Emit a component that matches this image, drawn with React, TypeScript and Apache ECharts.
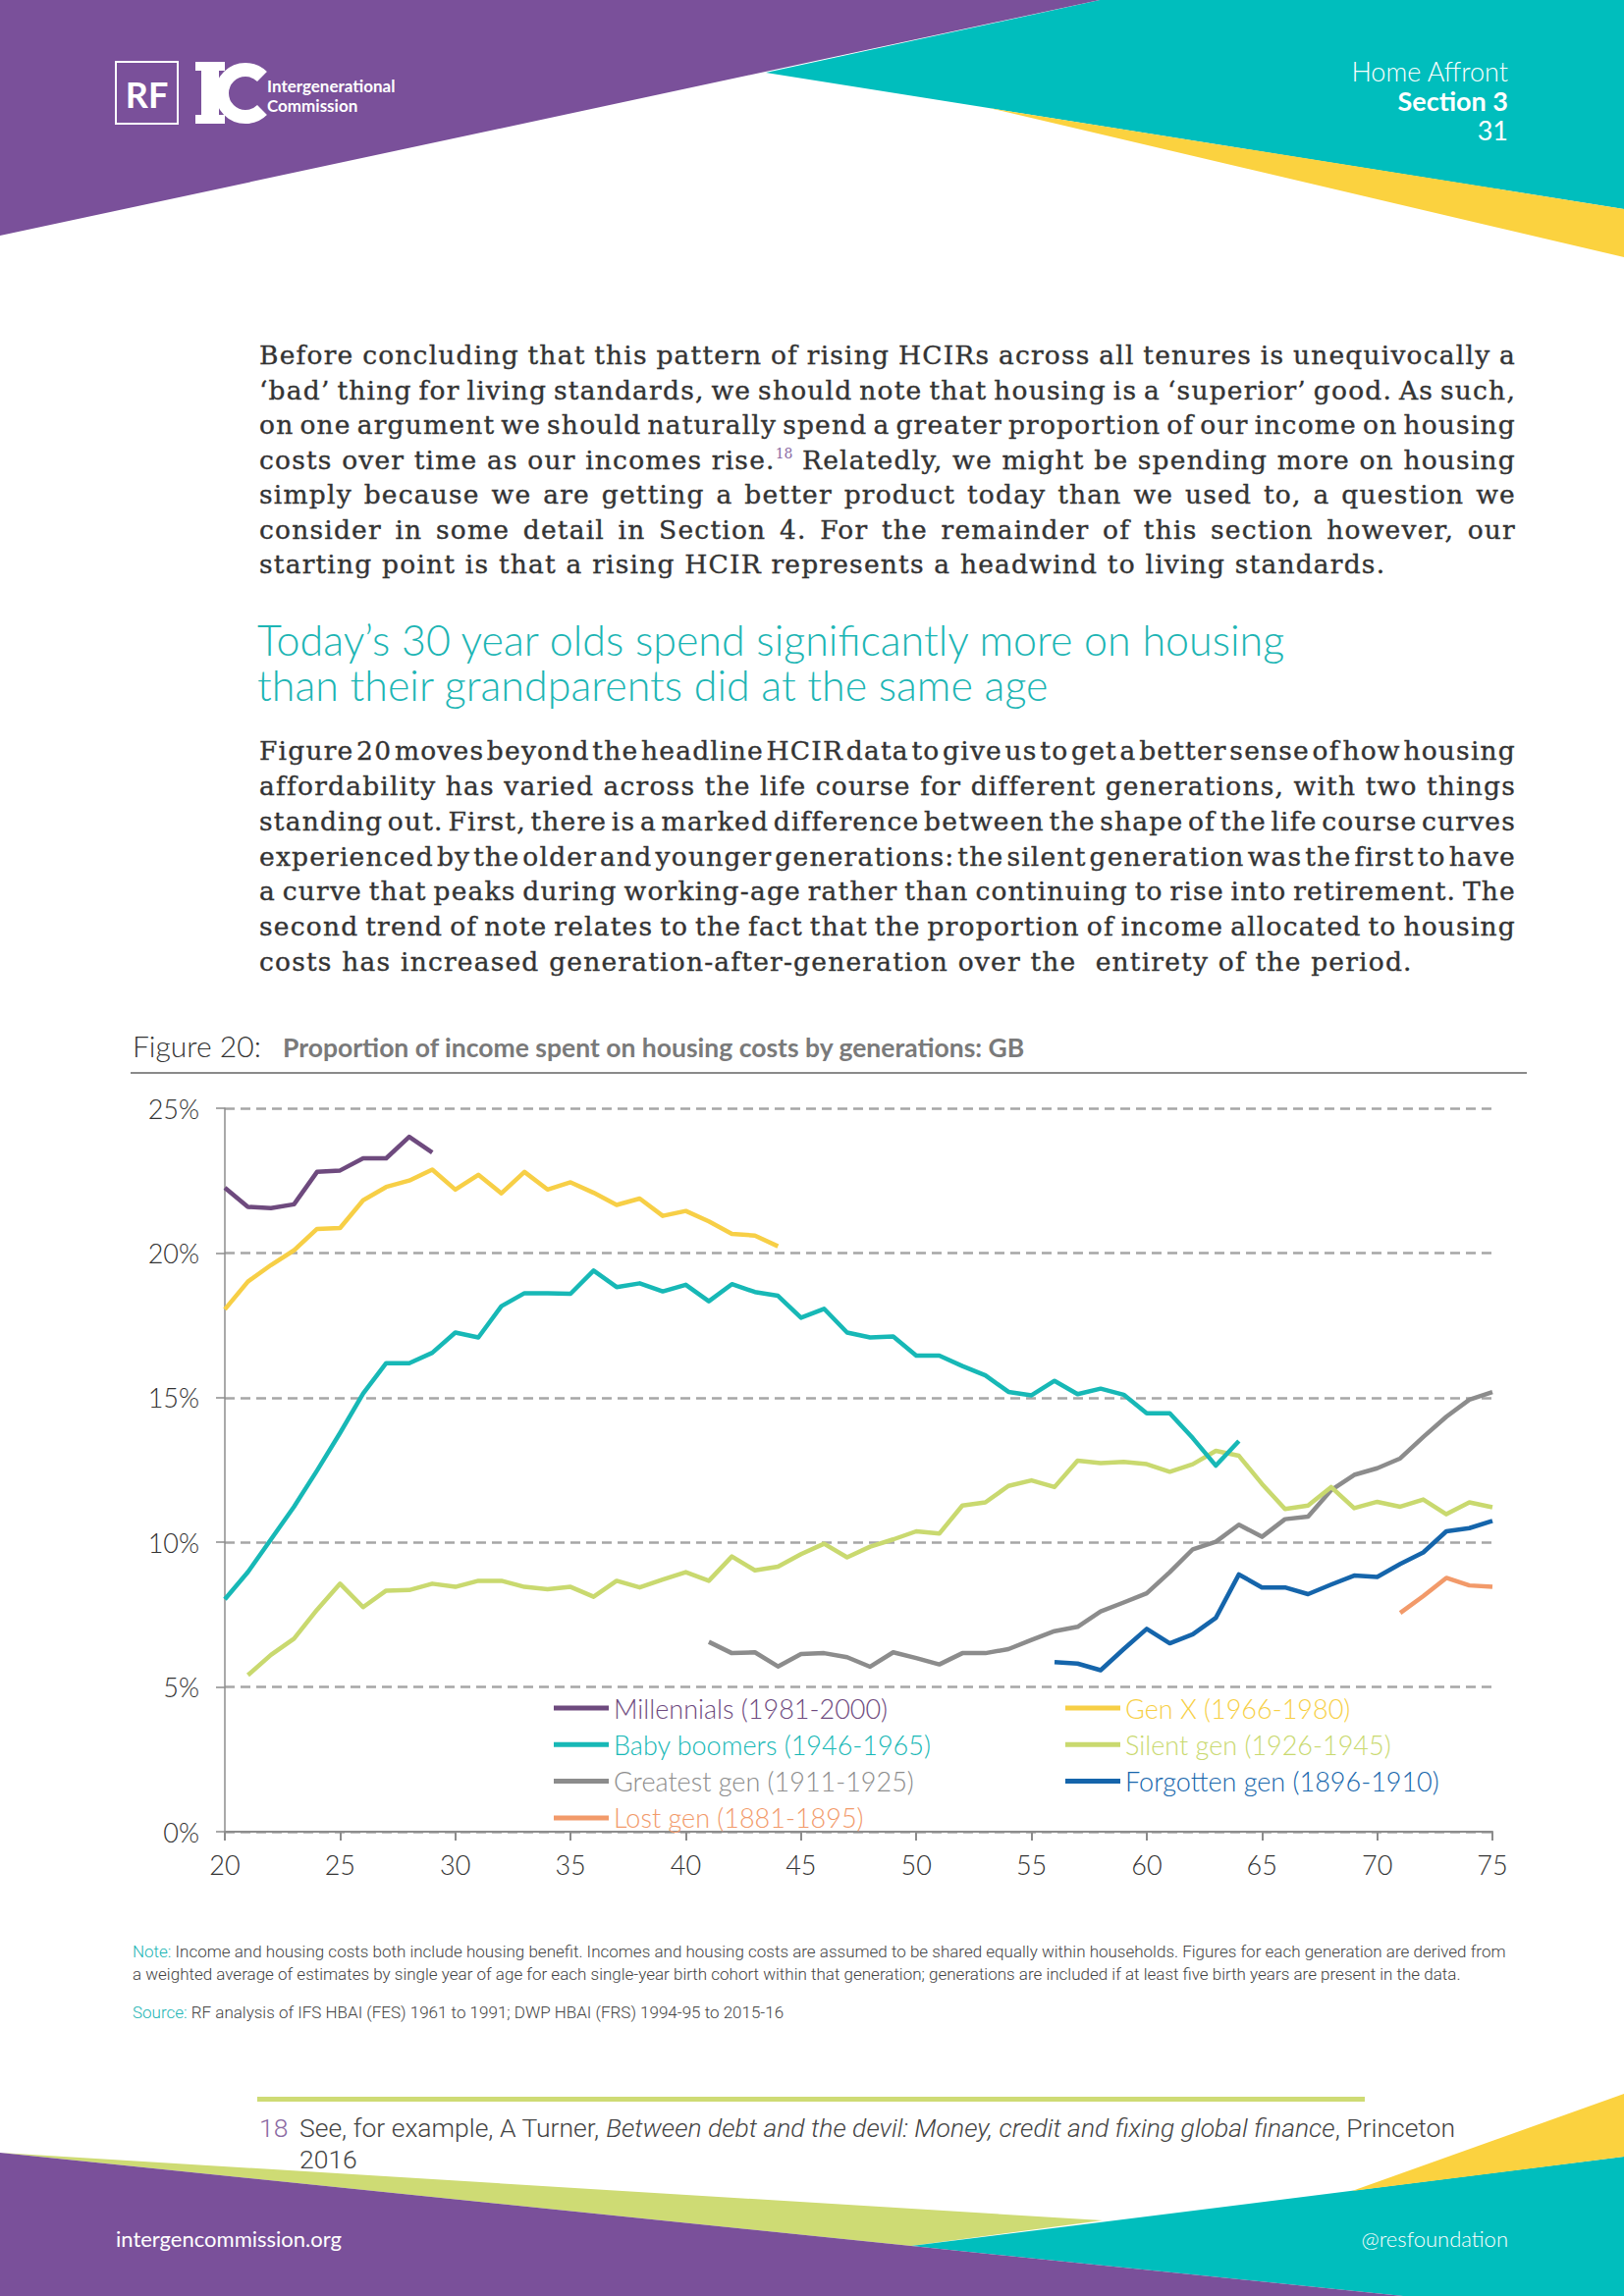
import React, { useEffect, useRef } from "react";
import * as echarts from "echarts";

// ---------- DATA ----------
const X_MIN = 20;
const X_MAX = 75;
const X_STEP = 5;
const Y_MIN = 0;
const Y_MAX = 25;
const Y_STEP = 5;

const millennialsName = "Millennials (1981-2000)";
const millennialsStart = 20;
const millennials = [22.25, 21.59, 21.55, 21.68, 22.8, 22.85, 23.27, 23.27, 24.01, 23.47];

const genXName = "Gen X (1966-1980)";
const genXStart = 20;
const genX = [18.05, 19.01, 19.58, 20.09, 20.83, 20.86, 21.82, 22.28, 22.5, 22.88, 22.19, 22.7, 22.06, 22.8, 22.19, 22.44, 22.08, 21.66, 21.88, 21.28, 21.45, 21.09, 20.66, 20.6, 20.23];

const boomersName = "Baby boomers (1946-1965)";
const boomersStart = 20;
const boomers = [8.03, 8.97, 10.1, 11.23, 12.48, 13.78, 15.14, 16.19, 16.19, 16.55, 17.25, 17.08, 18.16, 18.61, 18.61, 18.59, 19.39, 18.82, 18.95, 18.67, 18.9, 18.33, 18.92, 18.65, 18.52, 17.76, 18.07, 17.25, 17.08, 17.11, 16.45, 16.45, 16.09, 15.77, 15.2, 15.08, 15.58, 15.12, 15.31, 15.1, 14.46, 14.46, 13.6, 12.65, 13.5];

const silentName = "Silent gen (1926-1945)";
const silentStart = 21;
const silent = [5.41, 6.11, 6.67, 7.67, 8.57, 7.76, 8.33, 8.35, 8.57, 8.46, 8.67, 8.67, 8.46, 8.38, 8.46, 8.12, 8.67, 8.44, 8.71, 8.97, 8.67, 9.51, 9.03, 9.16, 9.59, 9.95, 9.48, 9.85, 10.1, 10.38, 10.3, 11.27, 11.38, 11.95, 12.14, 11.91, 12.82, 12.74, 12.78, 12.7, 12.44, 12.7, 13.16, 12.99, 12.02, 11.15, 11.27, 11.91, 11.18, 11.4, 11.23, 11.48, 10.97, 11.38, 11.21];

const greatestName = "Greatest gen (1911-1925)";
const greatestStart = 41;
const greatest = [6.56, 6.17, 6.2, 5.71, 6.14, 6.17, 6.03, 5.7, 6.2, 6.0, 5.78, 6.17, 6.17, 6.31, 6.63, 6.93, 7.08, 7.61, 7.92, 8.24, 8.97, 9.76, 10.02, 10.61, 10.19, 10.8, 10.89, 11.8, 12.33, 12.56, 12.9, 13.64, 14.34, 14.93, 15.19];

const forgottenName = "Forgotten gen (1896-1910)";
const forgottenStart = 56;
const forgotten = [5.86, 5.81, 5.58, 6.31, 7.01, 6.51, 6.82, 7.39, 8.89, 8.44, 8.44, 8.21, 8.54, 8.85, 8.8, 9.25, 9.65, 10.38, 10.49, 10.74];

const lostName = "Lost gen (1881-1895)";
const lostStart = 71;
const lost = [7.56, 8.14, 8.77, 8.51, 8.46];

const COLORS = {
  millennials: "#6E4A7E",
  genX: "#F7CF46",
  boomers: "#17B8B6",
  silent: "#C9D96F",
  greatest: "#8C8C8C",
  forgotten: "#1565AB",
  lost: "#F29A6A",
};

const P1 = [
  "Before concluding that this pattern of rising HCIRs across all tenures is unequivocally a",
  "\u2018bad\u2019 thing for living standards, we should note that housing is a \u2018superior\u2019 good. As such,",
  "on one argument we should naturally spend a greater proportion of our income on housing",
  "costs over time as our incomes rise.|18| Relatedly, we might be spending more on housing",
  "simply because we are getting a better product today than we used to, a question we",
  "consider in some detail in Section 4. For the remainder of this section however, our",
  "starting point is that a rising HCIR represents a headwind to living standards.",
];

const HEADING = [
  "Today\u2019s 30 year olds spend significantly more on housing",
  "than their grandparents did at the same age",
];

const P2 = [
  "Figure 20 moves beyond the headline HCIR data to give us to get a better sense of how housing",
  "affordability has varied across the life course for different generations, with two things",
  "standing out. First, there is a marked difference between the shape of the life course curves",
  "experienced by the older and younger generations: the silent generation was the first to have",
  "a curve that peaks during working-age rather than continuing to rise into retirement. The",
  "second trend of note relates to the fact that the proportion of income allocated to housing",
  "costs has increased generation-after-generation over the  entirety of the period.",
];

const NOTE1 = "Income and housing costs both include housing benefit. Incomes and housing costs are assumed to be shared equally within households. Figures for each generation are derived from";
const NOTE2 = "a weighted average of estimates by single year of age for each single-year birth cohort within that generation; generations are included if at least five birth years are present in the data.";
const SOURCE = "RF analysis of IFS HBAI (FES) 1961 to 1991; DWP HBAI (FRS) 1994-95 to 2015-16";

const toPairs = (start: number, vals: number[]) => vals.map((v, i) => [start + i, v]);

const SANS = "Lato, 'Open Sans', sans-serif";
const NOTE_FONT = "Roboto, sans-serif";

function buildOption() {
  const mk = (name: string, start: number, vals: number[], color: string, z: number) => ({
    name,
    type: "line",
    data: toPairs(start, vals),
    showSymbol: false,
    symbol: "none",
    z,
    lineStyle: { color, width: 4.5, join: "round" },
    itemStyle: { color },
  });

  const legendCommon = {
    orient: "vertical",
    icon: "rect",
    itemWidth: 56,
    itemHeight: 5,
    itemGap: 7.3,
    selectedMode: false,
    textStyle: { fontSize: 27, fontFamily: SANS, fontWeight: 300, lineHeight: 30 },
    top: 1720,
  };

  const teal = "#1CB5B4";
  const purple = "#7A509A";
  const tealBg = "#00BEBD";
  const yellow = "#FBD23F";
  const green = "#CEDB74";

  const graphic: any[] = [
    // header shapes
    { type: "polygon", shape: { points: [[780, 74], [1120, 0], [1654, 0], [1654, 213]] }, style: { fill: tealBg } },
    { type: "polygon", shape: { points: [[1007, 110], [1654, 213], [1654, 262]] }, style: { fill: yellow } },
    { type: "polygon", shape: { points: [[0, 0], [1120, 0], [0, 240]] }, style: { fill: purple } },
    // logo
    { type: "rect", shape: { x: 118, y: 63, width: 63, height: 63 }, style: { fill: "none", stroke: "#fff", lineWidth: 2 } },
    { type: "text", style: { text: "RF", x: 149.5, y: 96, fill: "#fff", fontSize: 36, fontFamily: SANS, fontWeight: "bold", textAlign: "center", verticalAlign: "middle" } },
    { type: "rect", shape: { x: 199, y: 63, width: 30, height: 9 }, style: { fill: "#fff" } },
    { type: "rect", shape: { x: 199, y: 117, width: 30, height: 9 }, style: { fill: "#fff" } },
    { type: "rect", shape: { x: 205, y: 63, width: 18, height: 63 }, style: { fill: "#fff" } },
    { type: "arc", shape: { cx: 250, cy: 95, r: 24, startAngle: Math.PI / 4, endAngle: (7 * Math.PI) / 4, clockwise: true }, style: { stroke: "#fff", lineWidth: 14, fill: "none" } },
    { type: "text", style: { text: "Intergenerational", x: 272, y: 87, fill: "#fff", fontSize: 17, fontFamily: SANS, fontWeight: "bold", verticalAlign: "middle" } },
    { type: "text", style: { text: "Commission", x: 272, y: 107, fill: "#fff", fontSize: 17, fontFamily: SANS, fontWeight: "bold", verticalAlign: "middle" } },
    // header right text
    { type: "text", style: { text: "Home Affront", x: 1536, y: 72, fill: "#fff", fontSize: 27, fontFamily: SANS, fontWeight: 300, textAlign: "right", verticalAlign: "middle" } },
    { type: "text", style: { text: "Section 3", x: 1536, y: 102, fill: "#fff", fontSize: 27, fontFamily: SANS, fontWeight: "bold", textAlign: "right", verticalAlign: "middle" } },
    { type: "text", style: { text: "31", x: 1536, y: 132, fill: "#fff", fontSize: 27, fontFamily: SANS, fontWeight: "normal", textAlign: "right", verticalAlign: "middle" } },
    // figure title
    { type: "text", style: { text: "Figure 20:", x: 135, y: 1065, fill: "#333", fontSize: 30, fontFamily: SANS, fontWeight: 300, verticalAlign: "middle" } },
    { type: "text", style: { text: "Proportion of income spent on housing costs by generations: GB", x: 288, y: 1067, fill: "#7a7a7a", fontSize: 26.5, fontFamily: SANS, fontWeight: "bold", verticalAlign: "middle" } },
    { type: "line", shape: { x1: 133, y1: 1093, x2: 1555, y2: 1093 }, style: { stroke: "#8a8a8a", lineWidth: 2 } },
    // notes
    { type: "text", style: { text: "{n|Note:} " + NOTE1, x: 135, y: 1988, fill: "#444", fontSize: 17, fontFamily: NOTE_FONT, fontWeight: 300, verticalAlign: "middle", rich: { n: { fill: teal, fontSize: 17, fontFamily: NOTE_FONT, fontWeight: 300 } } } },
    { type: "text", style: { text: NOTE2, x: 135, y: 2011, fill: "#444", fontSize: 17, fontFamily: NOTE_FONT, fontWeight: 300, verticalAlign: "middle" } },
    { type: "text", style: { text: "{n|Source:} " + SOURCE, x: 135, y: 2050, fill: "#444", fontSize: 17, fontFamily: NOTE_FONT, fontWeight: 300, verticalAlign: "middle", rich: { n: { fill: teal, fontSize: 17, fontFamily: NOTE_FONT, fontWeight: 300 } } } },
    // footer shapes
    { type: "polygon", shape: { points: [[0, 2193], [1123, 2262], [928, 2288]] }, style: { fill: green } },
    { type: "polygon", shape: { points: [[928, 2288], [1654, 2197], [1654, 2339], [1429, 2339]] }, style: { fill: tealBg } },
    { type: "polygon", shape: { points: [[1377, 2232], [1654, 2133], [1654, 2197]] }, style: { fill: yellow } },
    { type: "polygon", shape: { points: [[0, 2193], [928, 2288], [1429, 2339], [0, 2339]] }, style: { fill: purple } },
    // footnote
    { type: "rect", shape: { x: 262, y: 2136, width: 1128, height: 5 }, style: { fill: green } },
    { type: "text", style: { text: "18", x: 264, y: 2167, fill: "#8B6AA3", fontSize: 26.5, fontFamily: NOTE_FONT, fontWeight: 300, verticalAlign: "middle" } },
    {
      type: "text",
      style: {
        text: "See, for example, A Turner, {i|Between debt and the devil: Money, credit and fixing global finance}, Princeton",
        x: 305, y: 2167, fill: "#444", fontSize: 26.5, fontFamily: NOTE_FONT, fontWeight: 300, verticalAlign: "middle",
        rich: { i: { fontStyle: "italic", fill: "#444", fontSize: 26.5, fontFamily: NOTE_FONT, fontWeight: 300 } },
      },
    },
    { type: "text", style: { text: "2016", x: 305, y: 2199, fill: "#444", fontSize: 26.5, fontFamily: NOTE_FONT, fontWeight: 300, verticalAlign: "middle" } },
    // footer text
    { type: "text", style: { text: "intergencommission.org", x: 118, y: 2280, fill: "#fff", fontSize: 22, fontFamily: SANS, verticalAlign: "middle" } },
    { type: "text", style: { text: "@resfoundation", x: 1536, y: 2280, fill: "#fff", fontSize: 22, fontFamily: SANS, fontWeight: 300, textAlign: "right", verticalAlign: "middle" } },
  ];

  return {
    animation: false,
    backgroundColor: "#ffffff",
    grid: { left: 229, top: 1129, width: 1291, height: 737, containLabel: false },
    xAxis: {
      type: "value",
      min: X_MIN,
      max: X_MAX,
      interval: X_STEP,
      axisLine: { show: true, lineStyle: { color: "#8c8c8c", width: 2 } },
      axisTick: { show: true, length: 9, lineStyle: { color: "#8c8c8c", width: 2 } },
      axisLabel: { fontSize: 27, fontFamily: SANS, fontWeight: 300, color: "#333", margin: 20 },
      splitLine: { show: false },
    },
    yAxis: {
      type: "value",
      min: Y_MIN,
      max: Y_MAX,
      interval: Y_STEP,
      axisLine: { show: true, lineStyle: { color: "#8c8c8c", width: 1.5 } },
      axisTick: { show: true, length: 9, lineStyle: { color: "#8c8c8c", width: 1.5 } },
      axisLabel: { fontSize: 27, fontFamily: SANS, fontWeight: 300, color: "#333", margin: 26, formatter: "{value}%" },
      splitLine: { show: true, lineStyle: { color: "#a6a6a6", width: 2.5, type: [10, 6] } },
    },
    legend: [
      {
        ...legendCommon,
        left: 559,
        data: [
          { name: millennialsName, textStyle: { color: COLORS.millennials } },
          { name: boomersName, textStyle: { color: COLORS.boomers } },
          { name: greatestName, textStyle: { color: COLORS.greatest } },
          { name: lostName, textStyle: { color: COLORS.lost } },
        ],
      },
      {
        ...legendCommon,
        left: 1080,
        data: [
          { name: genXName, textStyle: { color: COLORS.genX } },
          { name: silentName, textStyle: { color: COLORS.silent } },
          { name: forgottenName, textStyle: { color: COLORS.forgotten } },
        ],
      },
    ],
    series: [
      mk(lostName, lostStart, lost, COLORS.lost, 2),
      mk(forgottenName, forgottenStart, forgotten, COLORS.forgotten, 3),
      mk(greatestName, greatestStart, greatest, COLORS.greatest, 4),
      mk(silentName, silentStart, silent, COLORS.silent, 5),
      mk(boomersName, boomersStart, boomers, COLORS.boomers, 6),
      mk(genXName, genXStart, genX, COLORS.genX, 7),
      mk(millennialsName, millennialsStart, millennials, COLORS.millennials, 8),
    ],
    graphic,
  };
}

const TEXT_LEFT = 264;
const TEXT_WIDTH = 1280;
const LINE_H = 35.5;

const serifLine = (text: string, center: number, last: boolean, key: string) => {
  const parts = text.split("|");
  return (
    <div
      key={key}
      style={{
        position: "absolute",
        left: TEXT_LEFT,
        top: center - LINE_H / 2,
        width: TEXT_WIDTH + 60,
        height: LINE_H,
        lineHeight: LINE_H + "px",
        fontFamily: "'DejaVu Serif', serif",
        fontSize: 26.5,
        letterSpacing: "1.2px",
        color: "#333",
        WebkitTextStroke: "0.35px #333",
        whiteSpace: "pre",
      } as any}
    >
      <span data-fit={last ? "0" : "1"}>
        {parts.length === 3 ? (
          <>
            {parts[0]}
            <span style={{ fontSize: 14, letterSpacing: 0, color: "#8B6AA3", WebkitTextStroke: "0px", position: "relative", top: -11, lineHeight: 0 } as any}>{parts[1]}</span>
            {parts[2]}
          </>
        ) : (
          text
        )}
      </span>
    </div>
  );
};

function fitLines(root: HTMLElement) {
  const spans = root.querySelectorAll("span[data-fit]");
  spans.forEach((node) => {
    const el = node as HTMLElement;
    el.style.wordSpacing = "0px";
    const w = el.getBoundingClientRect().width;
    const spaces = ((el.textContent || "").match(/ /g) || []).length;
    if (spaces === 0) return;
    if (el.dataset.fit === "1" || w > TEXT_WIDTH) {
      el.style.wordSpacing = (TEXT_WIDTH - w) / spaces + "px";
    }
  });
}

export default function App() {
  const ref = useRef<HTMLDivElement>(null);
  const pageRef = useRef<HTMLDivElement>(null);
  useEffect(() => {
    if (!ref.current) return;
    const chart = echarts.init(ref.current, undefined, { renderer: "svg", width: 1654, height: 2339 });
    chart.setOption(buildOption() as any);
    if (pageRef.current) {
      fitLines(pageRef.current);
      const fr = (document as any).fonts;
      if (fr && fr.ready) fr.ready.then(() => pageRef.current && fitLines(pageRef.current));
    }
    return () => chart.dispose();
  }, []);

  return (
    <div ref={pageRef} style={{ position: "absolute", left: 0, top: 0, width: 1654, height: 2339, background: "#fff", overflow: "hidden" }}>
      <div ref={ref} style={{ position: "absolute", left: 0, top: 0, width: 1654, height: 2339 }} />
      {P1.map((t, i) => serifLine(t, 362 + i * LINE_H, i === P1.length - 1, "p1-" + i))}
      <div
        style={{
          position: "absolute",
          left: 262,
          top: 652 - 23,
          width: 1300,
          lineHeight: "46px",
          fontFamily: SANS,
          fontWeight: 300,
          fontSize: 43,
          color: "#1CB5B4",
          whiteSpace: "nowrap",
        }}
      >
        {HEADING[0]}
        <br />
        {HEADING[1]}
      </div>
      {P2.map((t, i) => serifLine(t, 765 + i * 35.8, i === P2.length - 1, "p2-" + i))}
    </div>
  );
}
